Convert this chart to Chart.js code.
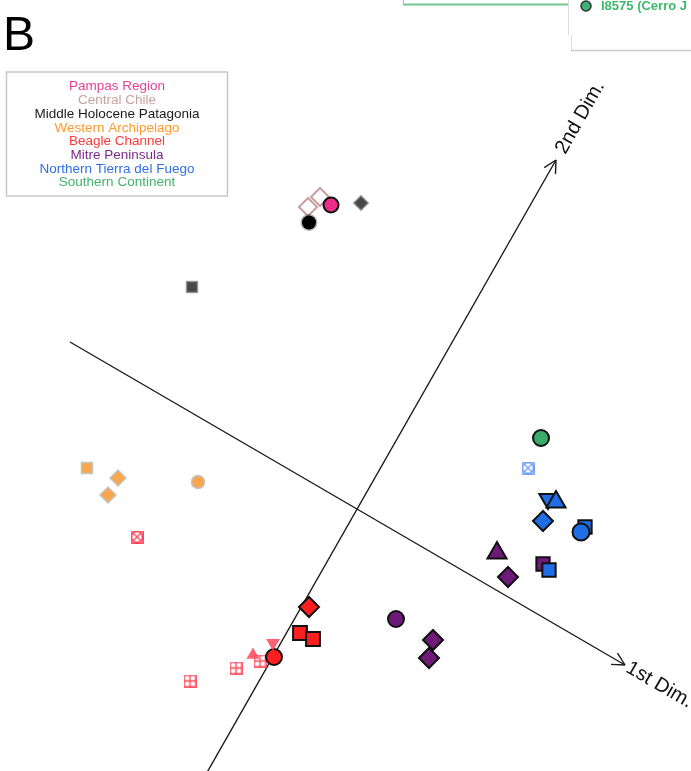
<!DOCTYPE html>
<html>
<head>
<meta charset="utf-8">
<script src="https://cdn.jsdelivr.net/npm/chart.js@4/dist/chart.umd.min.js"></script>
<style>
  html, body { margin: 0; padding: 0; background: #fff; }
  #wrap { position: relative; width: 691px; height: 771px; }
</style>
</head>
<body>
<div id="wrap"><canvas id="c"></canvas></div>
<script>
// Sample scores, page orientation: x to the right, y upwards.
const pampasCircle = [[-0.26, 3.04]];
const centralChileDiamond = [[-0.49, 3.02], [-0.37, 3.12]];
const holoceneCircle = [[-0.48, 2.865]];
const holoceneDiamond = [[0.04, 3.06]];
const holoceneSquare = [[-1.65, 2.22]];
const westernSquare = [[-2.70, 0.41]];
const westernDiamond = [[-2.39, 0.31], [-2.49, 0.14]];
const westernCircle = [[-1.59, 0.27]];
const beagleCrossed = [[-2.20, -0.28]];
const beagleDiamond = [[-0.48, -0.98]];
const beagleSquare = [[-0.57, -1.24], [-0.44, -1.30]];
const beagleCircle = [[-0.83, -1.48]];
const beagleTriDown = [[-0.84, -1.34]];
const beagleTriUp = [[-1.04, -1.46]];
const beagleGrid = [[-0.97, -1.52], [-1.21, -1.59], [-1.67, -1.72]];
const mitreTriangle = [[1.40, -0.44]];
const mitreDiamond = [[1.51, -0.68], [0.76, -1.31], [0.72, -1.49]];
const mitreSquare = [[1.86, -0.55]];
const mitreCircle = [[0.39, -1.10]];
const fuegoCrossed = [[1.71, 0.41]];
const fuegoTriDown = [[1.91, 0.10]];
const fuegoTriUp = [[1.99, 0.07]];
const fuegoDiamond = [[1.86, -0.12]];
const fuegoSquare = [[2.28, -0.18], [1.92, -0.61]];
const fuegoCircle = [[2.24, -0.23]];
const southernCircle = [[1.84, 0.71]];

// Ordination axes drawn as arrows through the cloud
const dim1Axis = [[-2.87, 1.67], [2.68, -1.56]];
const dim2Axis = [[-1.60, -2.81], [1.99, 3.49]];
const dimLabels = ['1st Dim.', '2nd Dim.'];

const regions = ['Pampas Region', 'Central Chile', 'Middle Holocene Patagonia', 'Western Archipelago',
  'Beagle Channel', 'Mitre Peninsula', 'Northern Tierra del Fuego', 'Southern Continent'];
const regionColors = ['#ea3f97', '#c6a3a3', '#1a1a1a', '#ff9a2c', '#ff3838', '#7a2a8a', '#2f70e6', '#43b26a'];

const FONT = "'Liberation Sans', Arial, Helvetica, sans-serif";

// Small outlined icons used as point styles
function crossedIcon(color, s) {
  const c = document.createElement('canvas');
  c.width = c.height = s;
  const g = c.getContext('2d');
  g.strokeStyle = color; g.lineWidth = 1.3;
  g.strokeRect(0.75, 0.75, s - 1.5, s - 1.5);
  g.beginPath(); g.arc(s / 2, s / 2, s / 2 - 1, 0, Math.PI * 2); g.stroke();
  g.beginPath();
  g.moveTo(2, 2); g.lineTo(s - 2, s - 2);
  g.moveTo(s - 2, 2); g.lineTo(2, s - 2);
  g.stroke();
  return c;
}
function gridIcon(color, s) {
  const c = document.createElement('canvas');
  c.width = c.height = s;
  const g = c.getContext('2d');
  g.strokeStyle = color; g.lineWidth = 1.4;
  g.strokeRect(0.8, 0.8, s - 1.6, s - 1.6);
  g.beginPath();
  g.moveTo(s / 2, 0.8); g.lineTo(s / 2, s - 0.8);
  g.moveTo(0.8, s / 2); g.lineTo(s - 0.8, s / 2);
  g.stroke();
  return c;
}

const solid = (fill, border, bw) => ({ pointBackgroundColor: fill, pointBorderColor: border, pointBorderWidth: bw });
const BLACK = '#111';
const red = solid('#ff1f1f', BLACK, 2);
const purple = solid('#6d1a78', BLACK, 2);
const blue = solid('#1f6ee6', BLACK, 2);
const orange = solid('#f9a64c', '#c4c4c4', 1.5);
const grey = solid('#484848', 'rgba(110,110,110,0.55)', 2);

function points(arr) { return arr.map(p => ({ x: p[0], y: p[1] })); }
function marks(arr, shape, r, style, extra) {
  return Object.assign({
    data: points(arr), showLine: false, pointStyle: shape,
    pointRadius: r, pointHoverRadius: r
  }, style, extra || {});
}
function axisLine(arr) {
  return { data: points(arr), showLine: true, borderColor: '#1a1a1a', borderWidth: 1.4,
    pointRadius: 0, pointHoverRadius: 0, fill: false };
}

// Listed bottom to top
const layers = [
  axisLine(dim1Axis),
  axisLine(dim2Axis),
  marks(holoceneSquare, 'rect', 7.5, grey),
  marks(centralChileDiamond, 'rectRot', 9, solid('rgba(255,255,255,0)', '#c9a0a0', 2)),
  marks(holoceneCircle, 'circle', 7, solid('#000', 'rgba(0,0,0,0.3)', 3)),
  marks(pampasCircle, 'circle', 7.5, solid('#ec2d8a', BLACK, 2)),
  marks(holoceneDiamond, 'rectRot', 7, grey),
  marks(westernSquare, 'rect', 7.8, orange),
  marks(westernDiamond, 'rectRot', 8, orange),
  marks(westernCircle, 'circle', 6.5, orange),
  marks(beagleCrossed, crossedIcon('rgba(255,40,70,0.9)', 13), 7, {}),
  marks(beagleGrid, gridIcon('rgba(255,50,70,0.9)', 13), 7, {}),
  marks(beagleTriUp, 'triangle', 7.5, solid('rgba(255,70,90,0.85)', 'rgba(0,0,0,0)', 0)),
  marks(beagleSquare, 'rect', 9.8, red),
  marks(beagleDiamond, 'rectRot', 10, red),
  marks(beagleCircle, 'circle', 8, red),
  marks(beagleTriDown, 'triangle', 8, solid('rgba(255,70,90,0.85)', 'rgba(0,0,0,0)', 0), { pointRotation: 180 }),
  marks(mitreCircle, 'circle', 8, purple),
  marks(mitreDiamond, 'rectRot', 10, purple),
  marks(mitreTriangle, 'triangle', 11, purple),
  marks(mitreSquare, 'rect', 9.4, purple),
  marks(fuegoCrossed, crossedIcon('rgba(90,140,240,0.85)', 13), 7, {}),
  marks(fuegoTriDown, 'triangle', 10, blue, { pointRotation: 180 }),
  marks(fuegoTriUp, 'triangle', 11, blue),
  marks(fuegoDiamond, 'rectRot', 10, blue),
  marks(fuegoSquare, 'rect', 9.4, blue),
  marks(fuegoCircle, 'circle', 8.5, blue),
  marks(southernCircle, 'circle', 8, solid('#3aab69', BLACK, 2))
];
// Chart.js paints the first dataset last, so flip the list
const datasets = layers.slice().reverse();

const overlay = {
  id: 'overlay',
  afterDraw(chart) {
    const { ctx, scales: { x, y } } = chart;
    ctx.save();

    // arrowheads and axis captions
    [[dim1Axis, dimLabels[0], 3], [dim2Axis, dimLabels[1], 9]].forEach(([ax, label, gap]) => {
      const p0 = { x: x.getPixelForValue(ax[0][0]), y: y.getPixelForValue(ax[0][1]) };
      const p1 = { x: x.getPixelForValue(ax[1][0]), y: y.getPixelForValue(ax[1][1]) };
      const len = Math.hypot(p1.x - p0.x, p1.y - p0.y);
      const dx = (p1.x - p0.x) / len, dy = (p1.y - p0.y) / len;
      const ang = Math.atan2(dy, dx);
      ctx.strokeStyle = '#1a1a1a'; ctx.lineWidth = 1.4;
      ctx.beginPath();
      [0.48, -0.48].forEach(a => {
        ctx.moveTo(p1.x, p1.y);
        ctx.lineTo(p1.x - 14 * Math.cos(ang + a), p1.y - 14 * Math.sin(ang + a));
      });
      ctx.stroke();
      ctx.save();
      ctx.translate(p1.x + dx * gap, p1.y + dy * gap);
      ctx.rotate(ang);
      ctx.fillStyle = '#111';
      ctx.font = '20px ' + FONT;
      ctx.textAlign = 'left'; ctx.textBaseline = 'middle';
      ctx.fillText(label, 0, 0);
      ctx.restore();
    });

    // panel letter
    ctx.fillStyle = '#000';
    ctx.font = '48px ' + FONT;
    ctx.textAlign = 'left'; ctx.textBaseline = 'alphabetic';
    ctx.fillText('B', 3, 50);

    // legend
    ctx.fillStyle = '#fff';
    ctx.fillRect(6.5, 72, 221, 124);
    ctx.strokeStyle = '#c8c8c8'; ctx.lineWidth = 1.5;
    ctx.strokeRect(6.5, 72, 221, 124);
    ctx.font = '13.5px ' + FONT;
    ctx.textAlign = 'center'; ctx.textBaseline = 'middle';
    regions.forEach((name, i) => {
      ctx.fillStyle = regionColors[i];
      ctx.fillText(name, 117, 86.7 + i * 13.72);
    });

    // neighbouring panel edge at the top
    ctx.strokeStyle = '#bbb'; ctx.lineWidth = 1;
    ctx.beginPath(); ctx.moveTo(403.5, 0); ctx.lineTo(403.5, 5); ctx.stroke();
    ctx.strokeStyle = '#74c890'; ctx.lineWidth = 2;
    ctx.beginPath(); ctx.moveTo(403, 4.5); ctx.lineTo(568, 4.5); ctx.stroke();
    ctx.strokeStyle = '#ddd'; ctx.lineWidth = 1;
    ctx.beginPath(); ctx.moveTo(568.5, 0); ctx.lineTo(568.5, 35); ctx.stroke();
    ctx.beginPath(); ctx.moveTo(571.5, 35); ctx.lineTo(571.5, 50); ctx.stroke();
    ctx.strokeStyle = '#ccc'; ctx.lineWidth = 1.5;
    ctx.beginPath(); ctx.moveTo(571, 50.5); ctx.lineTo(691, 50.5); ctx.stroke();
    ctx.fillStyle = '#3cb371'; ctx.strokeStyle = '#333'; ctx.lineWidth = 1.5;
    ctx.beginPath(); ctx.arc(586, 6, 5, 0, Math.PI * 2); ctx.fill(); ctx.stroke();
    ctx.fillStyle = '#3cb96d';
    ctx.font = 'bold 13px ' + FONT;
    ctx.textAlign = 'left'; ctx.textBaseline = 'middle';
    ctx.fillText('I8575 (Cerro J', 601, 6.5);

    ctx.restore();
  }
};

new Chart(document.getElementById('c'), {
  type: 'scatter',
  data: { datasets },
  options: {
    responsive: true,
    maintainAspectRatio: false,
    animation: false,
    events: [],
    layout: { padding: 0, autoPadding: false },
    plugins: { legend: { display: false }, tooltip: { enabled: false } },
    scales: {
      x: { type: 'linear', display: false, min: -3.57, max: 3.34 },
      y: { type: 'linear', display: false, min: -2.62, max: 5.09 }
    }
  },
  plugins: [overlay]
});
</script>
</body>
</html>
